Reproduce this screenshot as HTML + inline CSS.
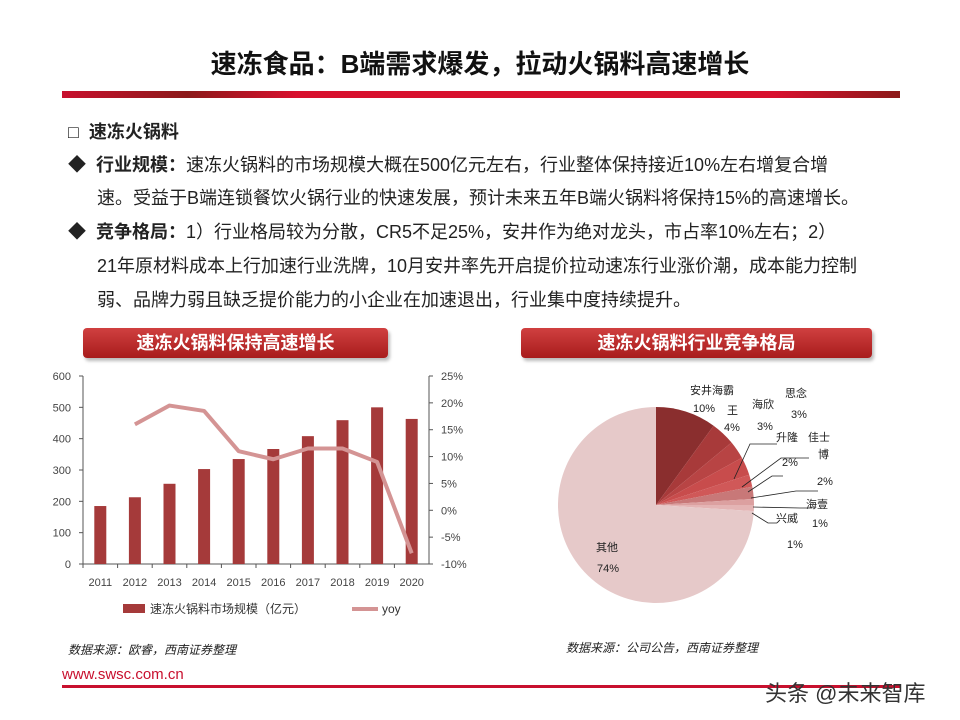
<!DOCTYPE html>
<html><head><meta charset="utf-8">
<style>
body{margin:0;width:960px;height:720px;background:#fff;position:relative;overflow:hidden;font-family:"Liberation Sans","Noto Sans CJK SC",sans-serif;}
.abs{position:absolute;}
.t{font-size:18px;color:#222;white-space:nowrap;}
.banner{position:absolute;height:30px;border-radius:4px;background:linear-gradient(#d04040,#a81c1c);color:#fff;font-weight:bold;font-size:18px;text-align:center;line-height:30px;box-shadow:2px 3px 3px #bbb;}
</style></head><body>
<div class="abs" style="left:0;top:44;width:960px;top:44px;text-align:center;font-size:26px;font-weight:bold;color:#111;">速冻食品：B端需求爆发，拉动火锅料高速增长</div>
<div class="abs" style="left:62px;top:91px;width:838px;height:7px;background:linear-gradient(90deg,#c8102e,#8c1a1a 15%,#d8102e 28%,#d8102e 85%,#8c1a1a);"></div>
<div class="abs t" style="left:68px;top:118px;font-weight:bold;">□&nbsp; 速冻火锅料</div>
<div class="abs t" style="left:68px;top:151px;">◆&nbsp; <b>行业规模：</b>速冻火锅料的市场规模大概在500亿元左右，行业整体保持接近10%左右增复合增</div>
<div class="abs t" style="left:97px;top:184px;">速。受益于B端连锁餐饮火锅行业的快速发展，预计未来五年B端火锅料将保持15%的高速增长。</div>
<div class="abs t" style="left:68px;top:218px;">◆&nbsp; <b>竞争格局：</b>1）行业格局较为分散，CR5不足25%，安井作为绝对龙头，市占率10%左右；2）</div>
<div class="abs t" style="left:97px;top:252px;">21年原材料成本上行加速行业洗牌，10月安井率先开启提价拉动速冻行业涨价潮，成本能力控制</div>
<div class="abs t" style="left:97px;top:286px;">弱、品牌力弱且缺乏提价能力的小企业在加速退出，行业集中度持续提升。</div>
<div class="banner" style="left:83px;top:328px;width:305px;">速冻火锅料保持高速增长</div>
<div class="banner" style="left:521px;top:328px;width:351px;">速冻火锅料行业竞争格局</div>
<svg class="abs" style="left:0;top:360px" width="960" height="300" id="svg"></svg>
<div class="abs" style="left:68px;top:641px;font-size:12px;font-style:italic;color:#222;">数据来源：欧睿，西南证券整理</div>
<div class="abs" style="left:566px;top:639px;font-size:12px;font-style:italic;color:#222;">数据来源：公司公告，西南证券整理</div>
<div class="abs" style="left:62px;top:666px;font-size:15px;color:#c8102e;">www.swsc.com.cn</div>
<div class="abs" style="left:62px;top:685px;width:838px;height:3px;background:#c8102e;"></div>
<div class="abs" style="left:765px;top:676px;font-size:22px;color:#333;">头条 @未来智库</div>
<script>
const years=["2011","2012","2013","2014","2015","2016","2017","2018","2019","2020"];
const sizes=[185,213,256,303,335,367,408,459,500,463];
const yoy=[null,16,19.5,18.5,11,9.5,11.5,11.5,9,-8];
const leftTicks=[0,100,200,300,400,500,600];
const rightTicks=[-10,-5,0,5,10,15,20,25];
const pieNames=["安井","海霸王","海欣","思念","升隆","佳士博","海壹","兴威","其他"];
const pieVals=[10,4,3,3,2,2,1,1,74];
const pieColors=["#8a2e2e","#a83a3a","#b84444","#c84c4c","#d05858","#c87878","#dca0a0","#e4b4b4","#e6c9c9"];
const svg=document.getElementById('svg');const NS="http://www.w3.org/2000/svg";
function mk(t,a,txt){const e=document.createElementNS(NS,t);for(const k in a)e.setAttribute(k,a[k]);if(txt!=null)e.textContent=txt;svg.appendChild(e);return e;}
const x0=83,x1=429,yT=16,yB=204;
const yL=v=>yB-(v/600)*(yB-yT);const yR=v=>yB-((v+10)/35)*(yB-yT);
const bw=(x1-x0)/years.length;const xc=i=>x0+bw*(i+0.5);
let a=mk('line',{x1:x0,y1:yT,x2:x0,y2:yB,stroke:'#555'});
a=mk('line',{x1:x1,y1:yT,x2:x1,y2:yB,stroke:'#555'});
a=mk('line',{x1:x0,y1:yB,x2:x1,y2:yB,stroke:'#555'});
leftTicks.forEach(v=>{mk('line',{x1:x0-4,y1:yL(v),x2:x0,y2:yL(v),stroke:'#555'});const t=mk('text',{x:x0-12,y:yL(v)+4,'text-anchor':'end','font-size':11,fill:'#444'},v);});
rightTicks.forEach(v=>{mk('line',{x1:x1,y1:yR(v),x2:x1+4,y2:yR(v),stroke:'#555'});const t=mk('text',{x:x1+12,y:yR(v)+4,'font-size':11,fill:'#444'},v+'%');});
years.forEach((y,i)=>{mk('line',{x1:x0+bw*i,y1:yB,x2:x0+bw*i,y2:yB+4,stroke:'#555'});const t=mk('text',{x:xc(i),y:yB+22,'text-anchor':'middle','font-size':11,fill:'#444'},y);
const b=mk('rect',{x:xc(i)-6,y:yL(sizes[i]),width:12,height:yB-yL(sizes[i]),fill:'#a53a3a'});});
let pts=[];yoy.forEach((v,i)=>{if(v!=null)pts.push(xc(i)+','+yR(v));});
const ln=mk('polyline',{points:pts.join(' '),fill:'none',stroke:'#d49494','stroke-width':4,'stroke-linejoin':'round'});
a=mk('rect',{x:123,y:244,width:22,height:9,fill:'#a53a3a'});
a=mk('text',{x:150,y:253,'font-size':12,fill:'#333'},'速冻火锅料市场规模（亿元）');
a=mk('line',{x1:352,y1:249,x2:378,y2:249,stroke:'#d49494','stroke-width':4});
a=mk('text',{x:382,y:253,'font-size':12,fill:'#333'},'yoy');
// pie
const cx=656,cy=145,r=98;const tot=pieVals.reduce((s,v)=>s+v,0);let ang=0;
pieVals.forEach((v,i)=>{const a0=ang,a1=ang+v/tot*2*Math.PI;ang=a1;
const p=(q)=>[cx+r*Math.sin(q),cy-r*Math.cos(q)];const [sx,sy]=p(a0),[ex,ey]=p(a1);
const s=mk('path',{d:`M${cx},${cy} L${sx},${sy} A${r},${r} 0 ${a1-a0>Math.PI?1:0} 1 ${ex},${ey} Z`,fill:pieColors[i]});

});
const labels=[["安井海霸",690,34],["10%",693,52],["王",727,54],["4%",724,71],["海欣",752,48],["3%",757,70],["思念",785,37],["3%",791,58],["升隆",776,81],["佳士",808,81],["2%",782,106],["博",818,98],["2%",817,125],["海壹",806,148],["1%",812,167],["兴威",776,162],["1%",787,188],["其他",596,191],["74%",597,212]];
labels.forEach(l=>{const t=mk('text',{x:l[1],y:l[2],'font-size':11,fill:'#222'},l[0]);});
[[734,119,750,84,777,84],[742,127,781,98,809,98],[748,132,772,116,783,116],[751,138,796,131,818,131],[753,147,800,148,812,148],[752,153,768,163,777,163]].forEach(p=>{const l=mk('polyline',{points:`${p[0]},${p[1]} ${p[2]},${p[3]} ${p[4]},${p[5]}`,fill:'none',stroke:'#222','stroke-width':0.8});});
</script>
</body></html>
